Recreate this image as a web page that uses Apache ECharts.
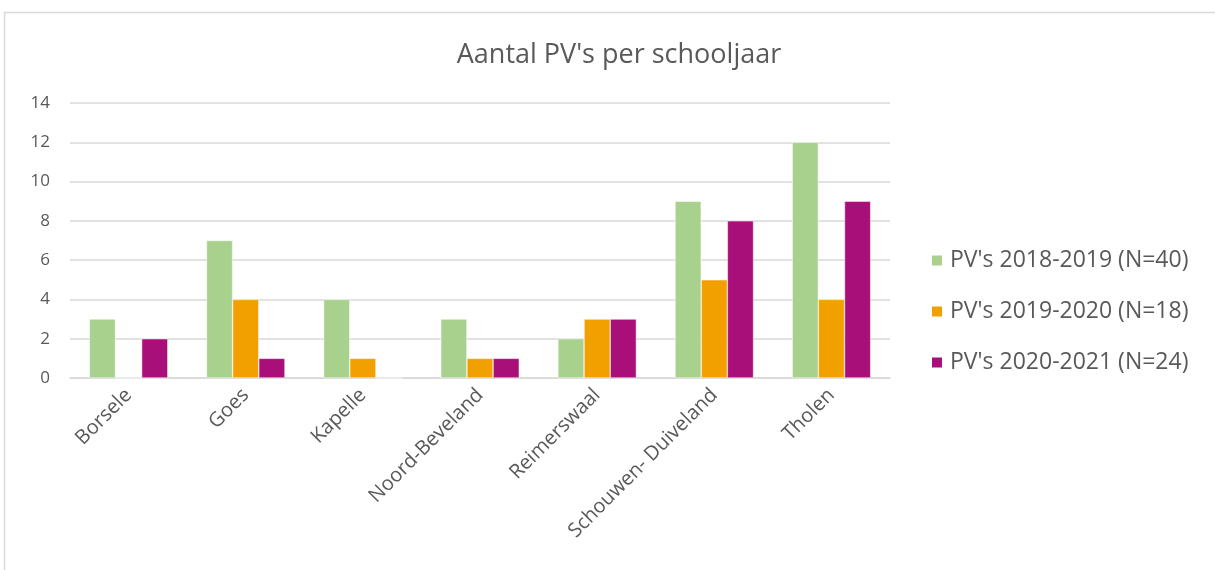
<!DOCTYPE html>
<html>
<head>
<meta charset="utf-8">
<script src="https://cdn.jsdelivr.net/npm/echarts@6/dist/echarts.min.js"></script>
<style>
html,body{margin:0;padding:0;background:#fff;}
#chart{width:1215px;height:570px;}
</style>
</head>
<body>
<div id="chart"></div>
<script>
const categories = ['Borsele', 'Goes', 'Kapelle', 'Noord-Beveland', 'Reimerswaal', 'Schouwen- Duiveland', 'Tholen'];
const seriesNames = ["PV's 2018-2019 (N=40)", "PV's 2019-2020 (N=18)", "PV's 2020-2021 (N=24)"];
const pv2018 = [3, 7, 4, 3, 2, 9, 12];
const pv2019 = [0, 4, 1, 1, 3, 5, 4];
const pv2020 = [2, 1, 0, 1, 3, 8, 9];
const colors = ['#A9D18E', '#F2A000', '#A80F78'];

const font = '"Open Sans", "Noto Sans", sans-serif';
const chart = echarts.init(document.getElementById('chart'));
const mk = (name, data, c) => ({
  name, type: 'bar', data, barGap: '0%', barCategoryGap: '33%',
  itemStyle: { color: c, borderColor: '#ffffff', borderWidth: 0.5 }
});
chart.setOption({
  animation: false,
  textStyle: { fontFamily: font },
  graphic: [{
    type: 'rect', shape: { x: 4.5, y: 12.5, width: 1300, height: 700 },
    style: { fill: 'none', stroke: '#D9D9D9', lineWidth: 1.5 }, silent: true
  }],
  title: {
    text: "Aantal PV's per schooljaar", left: 614, top: 37, textAlign: 'center',
    textStyle: { fontFamily: font, fontSize: 27, fontWeight: 'normal', color: '#595959' }
  },
  legend: {
    orient: 'vertical', left: 925, top: 244, itemGap: 28,
    itemWidth: 12, itemHeight: 12, icon: 'rect',
    textStyle: { fontFamily: font, fontSize: 23, lineHeight: 23, color: '#595959', padding: [0, 0, 0, 2] },
    data: seriesNames
  },
  grid: { left: 70, right: 325, top: 103, bottom: 192, containLabel: false },
  xAxis: {
    type: 'category', data: categories,
    axisLine: { show: true, lineStyle: { color: '#D9D9D9', width: 1.5 } },
    axisTick: { show: false },
    axisLabel: { rotate: 45, fontSize: 20, color: '#595959', margin: 14, fontFamily: font, interval: 0 }
  },
  yAxis: {
    type: 'value', min: 0, max: 14, interval: 2,
    axisLine: { show: false }, axisTick: { show: false },
    axisLabel: { fontSize: 17, color: '#595959', margin: 20, fontFamily: font },
    splitLine: { lineStyle: { color: '#D9D9D9', width: 1.5 } }
  },
  series: [mk(seriesNames[0], pv2018, colors[0]), mk(seriesNames[1], pv2019, colors[1]), mk(seriesNames[2], pv2020, colors[2])]
});
</script>
</body>
</html>
